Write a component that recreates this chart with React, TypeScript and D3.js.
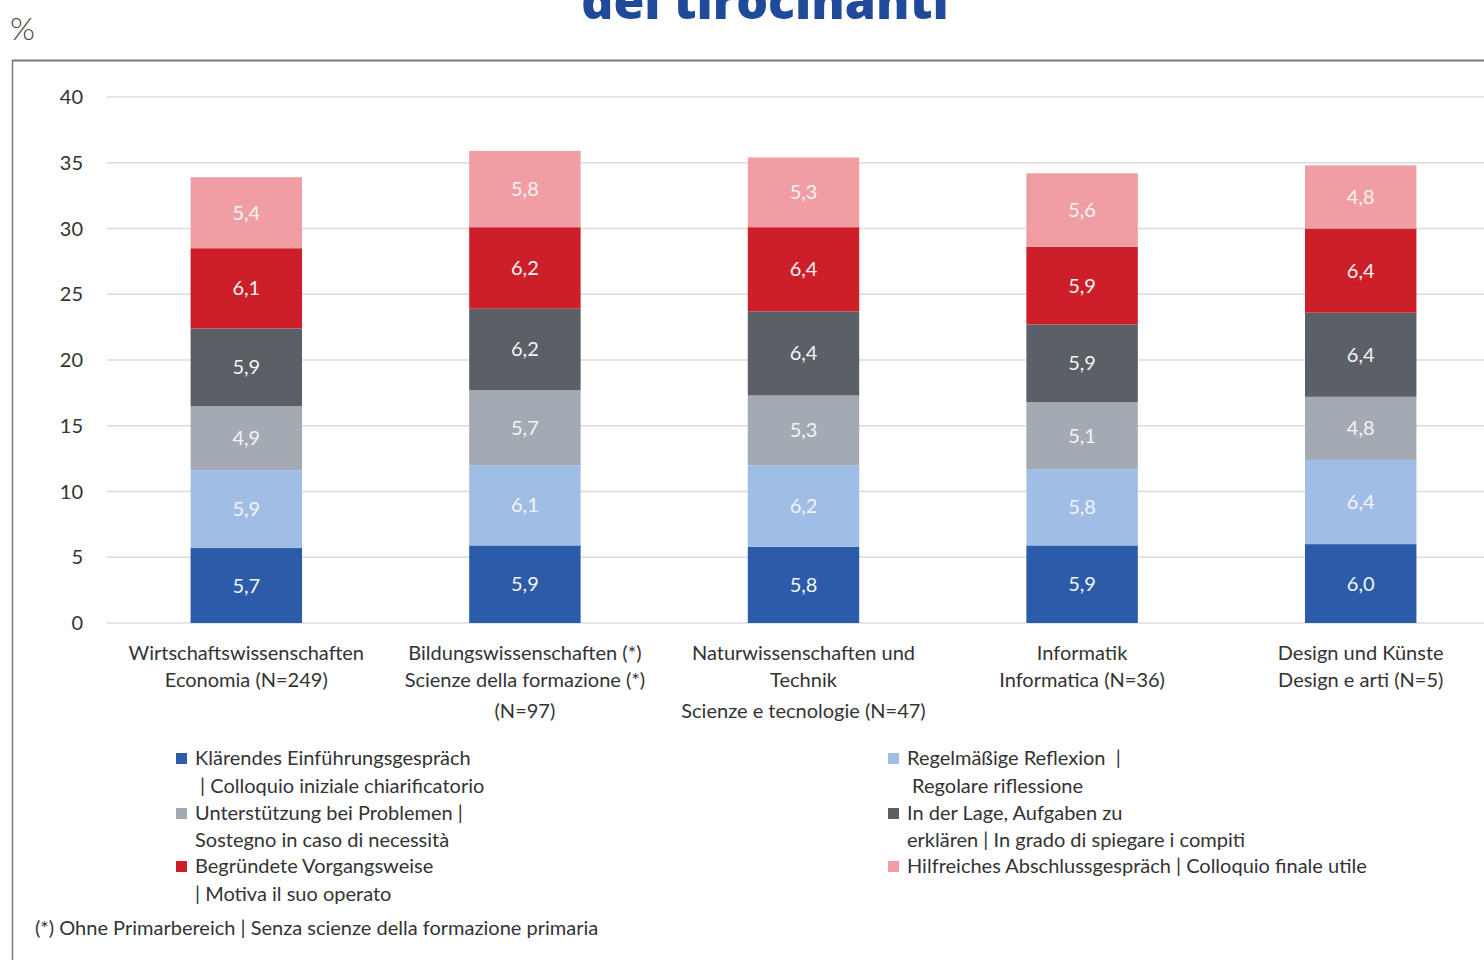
import React, { useEffect, useRef } from 'react';
import * as d3 from 'd3';

const categories = [
  ['Wirtschaftswissenschaften', 'Economia (N=249)'],
  ['Bildungswissenschaften (*)', 'Scienze della formazione (*)', '(N=97)'],
  ['Naturwissenschaften und', 'Technik', 'Scienze e tecnologie (N=47)'],
  ['Informatik', 'Informatica (N=36)'],
  ['Design und Künste', 'Design e arti (N=5)'],
];

const seriesNames = ['s1', 's2', 's3', 's4', 's5', 's6'];
const klaerend = [5.7, 5.9, 5.8, 5.9, 6.0];
const reflexion = [5.9, 6.1, 6.2, 5.8, 6.4];
const unterstuetzung = [4.9, 5.7, 5.3, 5.1, 4.8];
const erklaeren = [5.9, 6.2, 6.4, 5.9, 6.4];
const begruendet = [6.1, 6.2, 6.4, 5.9, 6.4];
const abschluss = [5.4, 5.8, 5.3, 5.6, 4.8];

const colors = ['#2c5ca9', '#a0bde6', '#a3aab3', '#5b5f66', '#cc1f2a', '#f09ea4'];
const yTicks = [0, 5, 10, 15, 20, 25, 30, 35, 40];

const legendLeft = [
  { c: 0, lines: ['Klärendes Einführungsgespräch', ' | Colloquio iniziale chiarificatorio'] },
  { c: 2, lines: ['Unterstützung bei Problemen |', 'Sostegno in caso di necessità'] },
  { c: 4, lines: ['Begründete Vorgangsweise', '| Motiva il suo operato'] },
];
const legendRight = [
  { c: 1, lines: ['Regelmäßige Reflexion  |', ' Regolare riflessione'] },
  { c: 3, lines: ['In der Lage, Aufgaben zu', 'erklären | In grado di spiegare i compiti'] },
  { c: 5, lines: ['Hilfreiches Abschlussgespräch | Colloquio finale utile'] },
];

const FONT = 'Lato, "Noto Sans", sans-serif';

const App = () => {
  const ref = useRef<SVGSVGElement>(null);

  useEffect(() => {
    const svg = d3.select(ref.current);
    svg.selectAll('*').remove();

    const table = categories.map((c, i) => ({
      idx: String(i),
      s1: klaerend[i], s2: reflexion[i], s3: unterstuetzung[i],
      s4: erklaeren[i], s5: begruendet[i], s6: abschluss[i],
    }));

    const x = d3.scaleBand().domain(table.map(d => d.idx)).range([107, 1500])
      .paddingInner(0.6).paddingOuter(0.3);
    const y = d3.scaleLinear().domain([0, 40]).range([623, 97]);

    // title (cut at top, as in the source)
    svg.append('text')
      .attr('x', 765).attr('y', 19)
      .attr('text-anchor', 'middle')
      .attr('font-family', '"Open Sans", sans-serif')
      .attr('font-weight', 800)
      .attr('font-size', 50)
      .attr('fill', '#1f4a99')
      .text('dei tirocinanti');

    svg.append('text')
      .attr('x', 10).attr('y', 40)
      .attr('font-family', FONT)
      .attr('font-weight', 300)
      .attr('font-size', 32)
      .attr('fill', '#444')
      .text('%');

    // frame
    svg.append('line').attr('x1', 12).attr('x2', 1484).attr('y1', 60.5).attr('y2', 60.5)
      .attr('stroke', '#7a7a7a').attr('stroke-width', 2);
    svg.append('line').attr('x1', 12.5).attr('x2', 12.5).attr('y1', 60).attr('y2', 960)
      .attr('stroke', '#7a7a7a').attr('stroke-width', 1.5);

    // grid
    svg.append('g').selectAll('line').data(yTicks).join('line')
      .attr('x1', 107).attr('x2', 1484)
      .attr('y1', d => y(d)).attr('y2', d => y(d))
      .attr('stroke', '#dcdcdc').attr('stroke-width', 1.5);

    svg.append('g').selectAll('text').data(yTicks).join('text')
      .attr('x', 83).attr('y', d => y(d))
      .attr('dy', '0.35em')
      .attr('text-anchor', 'end')
      .attr('font-family', FONT).attr('font-size', 20).attr('fill', '#333')
      .text(d => d);

    const stack = d3.stack().keys(seriesNames)(table as any);

    const layers = svg.append('g').selectAll('g').data(stack).join('g')
      .attr('fill', (d, i) => colors[i]);

    layers.selectAll('rect').data(d => d).join('rect')
      .attr('x', (d: any) => x(d.data.idx)!)
      .attr('y', (d: any) => y(d[1]))
      .attr('width', x.bandwidth())
      .attr('height', (d: any) => y(d[0]) - y(d[1]));

    layers.selectAll('text').data(d => d).join('text')
      .attr('x', (d: any) => x(d.data.idx)! + x.bandwidth() / 2)
      .attr('y', (d: any) => (y(d[0]) + y(d[1])) / 2)
      .attr('dy', '0.35em')
      .attr('text-anchor', 'middle')
      .attr('font-family', FONT).attr('font-size', 20)
      .attr('fill', '#f4f4f4')
      .text((d: any) => d3.format('.1f')(d[1] - d[0]).replace('.', ','));

    // category labels
    const lineY = [653, 680, 711];
    categories.forEach((lines, i) => {
      lines.forEach((t, j) => {
        svg.append('text')
          .attr('x', x(String(i))! + x.bandwidth() / 2)
          .attr('y', lineY[j])
          .attr('dy', '0.35em')
          .attr('text-anchor', 'middle')
          .attr('font-family', FONT).attr('font-size', 20).attr('fill', '#333')
          .text(t);
      });
    });

    // legend
    const drawLegend = (items: any[], sx: number, tx: number) => {
      let row = 0;
      const rowY = [758, 786, 813, 840, 866, 894];
      items.forEach(it => {
        svg.append('rect')
          .attr('x', sx).attr('y', rowY[row] - 5)
          .attr('width', 11).attr('height', 11)
          .attr('fill', colors[it.c]);
        it.lines.forEach((t: string) => {
          svg.append('text')
            .attr('x', tx).attr('y', rowY[row])
            .attr('dy', '0.35em')
            .attr('font-family', FONT).attr('font-size', 20).attr('fill', '#333')
            .attr('xml:space', 'preserve')
            .style('white-space', 'pre')
            .text(t);
          row++;
        });
      });
    };
    drawLegend(legendLeft, 176, 195);
    drawLegend(legendRight, 888, 907);

    svg.append('text')
      .attr('x', 35).attr('y', 928)
      .attr('dy', '0.35em')
      .attr('font-family', FONT).attr('font-size', 20).attr('fill', '#333')
      .text('(*) Ohne Primarbereich | Senza scienze della formazione primaria');
  }, []);

  return (
    <svg ref={ref} width={1484} height={960}
      style={{ position: 'absolute', left: 0, top: 0, background: '#fff', display: 'block' }} />
  );
};

export default App;
